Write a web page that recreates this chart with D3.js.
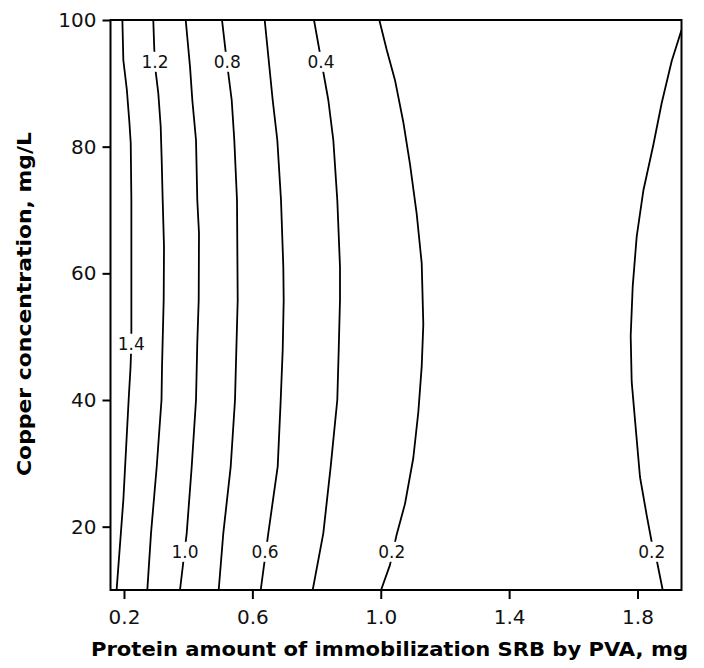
<!DOCTYPE html>
<html>
<head>
<meta charset="utf-8">
<script src="https://cdn.jsdelivr.net/npm/d3@7"></script>
<style>
  html, body { margin: 0; padding: 0; background: #fff; }
  svg { display: block; }
</style>
</head>
<body>
<svg id="chart" width="704" height="668"></svg>
<script>
// ---------------- data ----------------
const xTicks = [0.2, 0.6, 1.0, 1.4, 1.8];
const yTicks = [20, 40, 60, 80, 100];
const xDomain = [0.158, 1.937];
const yDomain = [10, 100];
const xTitle = "Protein amount of immobilization SRB by PVA, mg";
const yTitle = "Copper concentration, mg/L";

// contour lines, points as [protein mg, copper mg/L]
const line14 = [[0.195,100],[0.198,93.68],[0.209,88.95],[0.217,83.74],[0.221,80.58],[0.223,71.58],[0.223,55.79],[0.223,49.0],[0.2205,45.26],[0.2145,40],[0.198,24.21],[0.177,10]];
const line12 = [[0.2913,100],[0.2945,95.26],[0.2988,91.84],[0.3069,88.47],[0.3144,83.15],[0.3175,77.89],[0.3206,71.58],[0.3247,64.21],[0.3237,55.79],[0.3185,45.26],[0.3169,40],[0.302,29.47],[0.2842,18.95],[0.2727,10]];
const line10 = [[0.3923,100],[0.4057,92.63],[0.4129,87.37],[0.4244,81.05],[0.4284,71.58],[0.4337,66.37],[0.4328,55.79],[0.4284,49.0],[0.4244,40],[0.411,29.47],[0.3954,18.95],[0.3745,10]];
const line08 = [[0.5054,100],[0.5198,93.68],[0.5356,87.37],[0.5437,81.05],[0.5521,71.58],[0.5543,55.79],[0.5481,44.26],[0.5459,40],[0.5325,29.47],[0.5094,18.95],[0.4951,10]];
const line06 = [[0.6384,100],[0.6633,87.37],[0.6777,81.05],[0.6892,71.58],[0.6964,61.05],[0.6976,55.79],[0.6945,47.89],[0.6883,40],[0.6789,29.47],[0.6496,18.95],[0.626,10]];
const line04 = [[0.792,100],[0.8366,87.37],[0.8522,81.05],[0.8646,71.58],[0.873,61.05],[0.873,55.79],[0.869,47.89],[0.8646,40],[0.844,29.47],[0.821,18.95],[0.788,10]];
const line02a = [[0.9955,100],[1.0185,95.3],[1.0444,90.5],[1.0702,83.9],[1.0911,77.25],[1.112,69.4],[1.1276,61.57],[1.1326,51.94],[1.1276,45.3],[1.117,38.07],[1.1014,30.84],[1.0755,23.6],[1.0497,18.78],[1.0288,13.96],[1.001,10]];
const line02b = [[1.937,98.42],[1.9065,93.53],[1.8753,86.9],[1.8492,80.26],[1.818,73.03],[1.7974,65.8],[1.785,57.95],[1.7787,50.12],[1.7818,42.89],[1.7921,36.87],[1.8077,27.84],[1.8286,21.79],[1.8442,17.58],[1.8597,14.74],[1.8784,10]];

const levels = [1.4, 1.2, 1.0, 0.8, 0.6, 0.4, 0.2, 0.2];
const lines = [line14, line12, line10, line08, line06, line04, line02a, line02b];

// contour labels: text, protein, copper
const labelText = ["1.2", "0.8", "0.4", "1.4", "1.0", "0.6", "0.2", "0.2"];
const labelX    = [0.2967, 0.5219, 0.8138, 0.2228, 0.3901, 0.6394, 1.0341, 1.8442];
const labelY    = [93.42, 93.42, 93.42, 48.9, 16.05, 16.05, 16.05, 16.05];

// ---------------- drawing ----------------
const svg = d3.select("#chart");
const mLeft = 110.5, mRight = 681.5, mTop = 20, mBottom = 590;

const x = d3.scaleLinear().domain(xDomain).range([mLeft, mRight]);
const y = d3.scaleLinear().domain(yDomain).range([mBottom, mTop]);

svg.append("defs").append("clipPath").attr("id", "plotclip")
  .append("rect").attr("x", mLeft).attr("y", mTop)
  .attr("width", mRight - mLeft).attr("height", mBottom - mTop);

const lineGen = d3.line().x(d => x(d[0])).y(d => y(d[1]));

const gLines = svg.append("g").attr("clip-path", "url(#plotclip)");
gLines.selectAll("path.contour")
  .data(lines)
  .join("path")
  .attr("class", "contour")
  .attr("d", lineGen)
  .attr("fill", "none")
  .attr("stroke", "#000")
  .attr("stroke-width", 1.8)
  .attr("stroke-linejoin", "round");

// labels with white knockout
const gLab = svg.append("g");
labelText.forEach((t, i) => {
  const g = gLab.append("g");
  const txt = g.append("text")
    .attr("x", x(labelX[i]))
    .attr("y", y(labelY[i]))
    .attr("dy", "0.36em")
    .attr("text-anchor", "middle")
    .attr("font-family", "'DejaVu Sans', Verdana, sans-serif")
    .attr("font-size", 17)
    .attr("fill", "#111")
    .text(t);
  const bb = txt.node().getBBox();
  g.insert("rect", "text")
    .attr("x", bb.x - 1)
    .attr("y", bb.y)
    .attr("width", bb.width + 2)
    .attr("height", bb.height)
    .attr("fill", "#fff");
});

// axes
const xAxis = d3.axisBottom(x).tickValues(xTicks).tickFormat(d3.format(".1f"))
  .tickSizeInner(9).tickSizeOuter(0).tickPadding(11);
const yAxis = d3.axisLeft(y).tickValues(yTicks).tickFormat(d3.format("d"))
  .tickSizeInner(8).tickSizeOuter(0).tickPadding(6);

const gx = svg.append("g").attr("transform", `translate(0,${mBottom})`).call(xAxis);
const gy = svg.append("g").attr("transform", `translate(${mLeft},0)`).call(yAxis);

[gx, gy].forEach(g => {
  g.select(".domain").remove();
  g.selectAll(".tick line").attr("stroke", "#000").attr("stroke-width", 2);
  g.selectAll(".tick text")
    .attr("font-family", "'DejaVu Sans', Verdana, sans-serif")
    .attr("font-size", 20)
    .attr("fill", "#111");
});

// frame
svg.append("rect")
  .attr("x", mLeft).attr("y", mTop)
  .attr("width", mRight - mLeft).attr("height", mBottom - mTop)
  .attr("fill", "none").attr("stroke", "#000").attr("stroke-width", 2);

// titles
svg.append("text")
  .attr("x", 91).attr("y", 656)
  .attr("font-family", "'DejaVu Sans', Verdana, sans-serif")
  .attr("font-weight", "bold")
  .attr("font-size", 20)
  .attr("textLength", 597)
  .attr("lengthAdjust", "spacingAndGlyphs")
  .attr("fill", "#000")
  .text(xTitle);

svg.append("text")
  .attr("transform", "translate(31,304) rotate(-90)")
  .attr("text-anchor", "middle")
  .attr("font-family", "'DejaVu Sans', Verdana, sans-serif")
  .attr("font-weight", "bold")
  .attr("font-size", 20)
  .attr("textLength", 344)
  .attr("lengthAdjust", "spacingAndGlyphs")
  .attr("fill", "#000")
  .text(yTitle);
</script>
</body>
</html>
